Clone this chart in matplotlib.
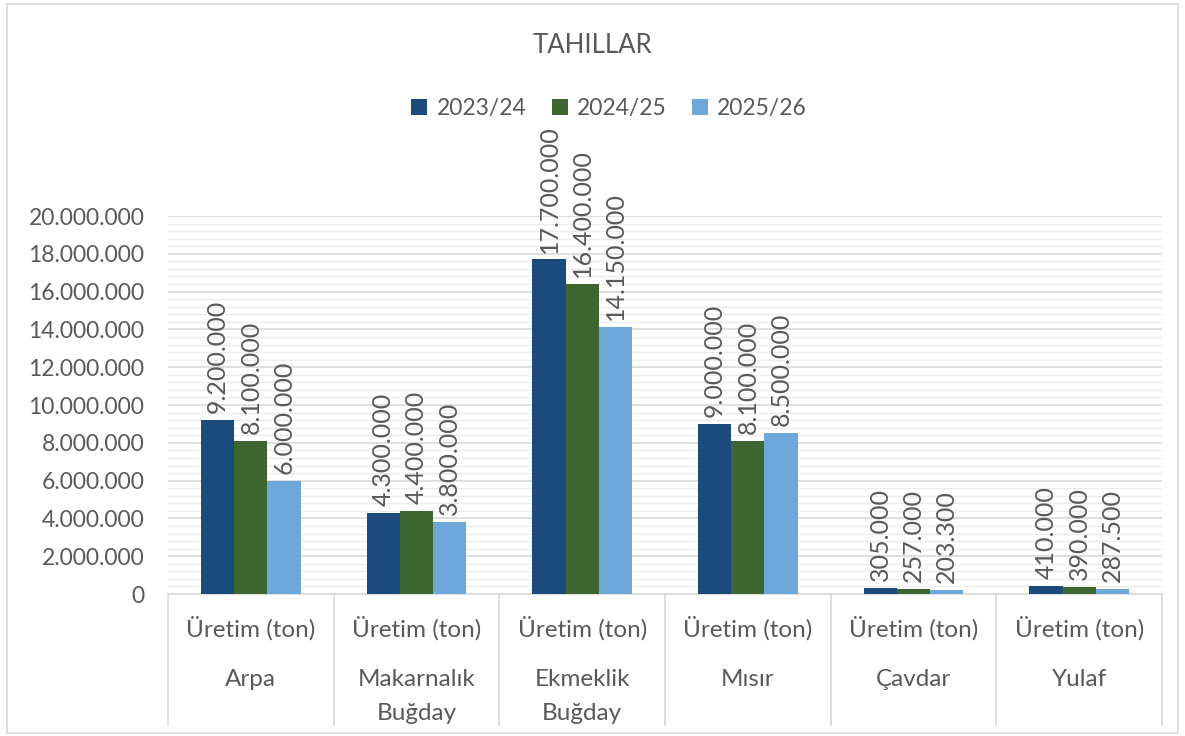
import matplotlib
matplotlib.use("Agg")
import matplotlib.pyplot as plt
import matplotlib.transforms as mtransforms
from matplotlib.ticker import FuncFormatter, MultipleLocator
from matplotlib.patches import Rectangle
import numpy as np

plt.rcParams['font.family'] = ['Lato', 'DejaVu Sans']

categories = ["Arpa", "Makarnalık\nBuğday", "Ekmeklik\nBuğday", "Mısır", "Çavdar", "Yulaf"]
sub_label = "Üretim (ton)"
series_names = ["2023/24", "2024/25", "2025/26"]
v2023 = [9200000, 4300000, 17700000, 9000000, 305000, 410000]
v2024 = [8100000, 4400000, 16400000, 8100000, 257000, 390000]
v2025 = [6000000, 3800000, 14150000, 8500000, 203300, 287500]
colors = ["#1b4a7c", "#3e6630", "#6ea8da"]
title = "TAHILLAR"

TXT = "#595959"

def fmt(v):
    s = f"{v:,.0f}".replace(",", ".")
    return s

fig = plt.figure(figsize=(11.85, 7.36), dpi=100)
fig.patches.append(Rectangle((0.006, 0.004), 0.988, 0.99, transform=fig.transFigure,
                             fill=False, edgecolor="#d9d9d9", linewidth=1.2))
ax = fig.add_axes([0.1418, 0.1929, 0.8388, 0.5136])

x = np.arange(len(categories))
w = 0.2
for i, (vals, name) in enumerate(zip([v2023, v2024, v2025], series_names)):
    pos = x + (i - 1) * w
    bars = ax.bar(pos, vals, width=w, color=colors[i], label=name, zorder=3)
    for xp, v in zip(pos, vals):
        ax.annotate(fmt(v), (xp, v), xytext=(0, 5), textcoords="offset points",
                    rotation=90, ha="center", va="bottom", fontsize=18, color=TXT)

ax.set_xlim(-0.5, len(categories) - 0.5)
ax.set_ylim(0, 20000000)
ax.yaxis.set_major_locator(MultipleLocator(2000000))
ax.yaxis.set_minor_locator(MultipleLocator(400000))
ax.yaxis.set_major_formatter(FuncFormatter(lambda v, p: fmt(v)))
ax.grid(axis="y", which="major", color="#d9d9d9", linewidth=1.2, zorder=0)
ax.grid(axis="y", which="minor", color="#ececec", linewidth=1.0, zorder=0)
ax.set_axisbelow(True)
for s in ["top", "right", "left"]:
    ax.spines[s].set_visible(False)
ax.spines["bottom"].set_color("#d9d9d9")
ax.spines["bottom"].set_linewidth(1.2)
ax.tick_params(axis="y", which="both", length=0, labelsize=16.5, labelcolor=TXT, pad=17)
ax.tick_params(axis="x", which="both", length=0, labelbottom=False)

trans = mtransforms.blended_transform_factory(ax.transData, ax.transAxes)
for b in np.arange(len(categories) + 1) - 0.5:
    ax.plot([b, b], [0, -0.347], transform=trans, color="#d9d9d9", linewidth=1.2,
            clip_on=False)
for xi, cat in zip(x, categories):
    ax.text(xi, -0.09, sub_label, transform=trans, ha="center", va="center",
            fontsize=17.5, color=TXT)
    ax.text(xi, -0.198, cat, transform=trans, ha="center", va="top",
            fontsize=17.5, color=TXT, linespacing=1.8)

fig.text(0.5, 0.938, title, ha="center", va="center", fontsize=18.5, color=TXT)
fig.legend(loc="center", bbox_to_anchor=(0.514, 0.853), ncol=3, frameon=False,
           fontsize=16.5, labelcolor=TXT, handlelength=0.7, handleheight=0.7,
           handletextpad=0.4, columnspacing=1.1)

fig.savefig("out.png", dpi=100)
